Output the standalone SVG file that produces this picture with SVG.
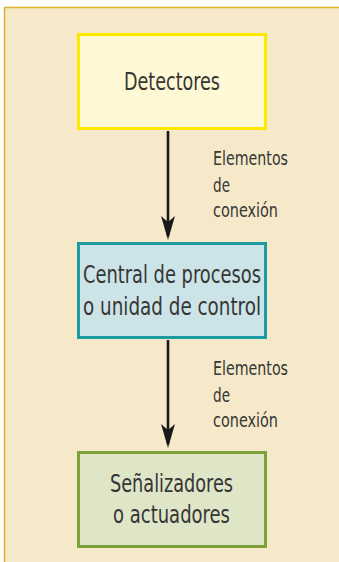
<svg xmlns="http://www.w3.org/2000/svg" width="339" height="562" viewBox="0 0 339 562">
  <style>
    .t { font-family: "DejaVu Sans Condensed", "Liberation Sans Narrow", "Roboto Condensed", "Liberation Sans", sans-serif; fill: #363636; }
    .box { font-size: 25px; }
    .lbl { font-size: 19px; }
    .edge { stroke: #1a1a1a; stroke-width: 2.6; fill: none; }
  </style>
  <defs>
    <marker id="arr" markerUnits="userSpaceOnUse" viewBox="0 0 24 14" refX="20" refY="7" markerWidth="24" markerHeight="14" orient="auto">
      <path d="M0,0 L24,7 L0,14 L6,7 Z" fill="#1a1a1a"/>
    </marker>
  </defs>
  <rect x="0" y="0" width="339" height="562" fill="#ffffff"/>
  <rect x="4.5" y="7.5" width="340" height="560" fill="#f5e9c9" stroke="#d9b22a" stroke-width="1.5"/>

  <g id="connectors">
    <path class="edge" d="M168,131 L168,236" marker-end="url(#arr)"/>
    <path class="edge" d="M168,340 L168,444" marker-end="url(#arr)"/>
    <g class="t lbl">
      <text x="213" y="165" textLength="75" lengthAdjust="spacingAndGlyphs">Elementos</text>
      <text x="213" y="192" textLength="17" lengthAdjust="spacingAndGlyphs">de</text>
      <text x="213" y="217" textLength="65" lengthAdjust="spacingAndGlyphs">conexión</text>
      <text x="213" y="375" textLength="75" lengthAdjust="spacingAndGlyphs">Elementos</text>
      <text x="213" y="402" textLength="17" lengthAdjust="spacingAndGlyphs">de</text>
      <text x="213" y="427" textLength="65" lengthAdjust="spacingAndGlyphs">conexión</text>
    </g>
  </g>

  <g id="detectores">
    <rect x="78.5" y="34.5" width="187" height="94" fill="#fef8d4" stroke="#ffe800" stroke-width="3"/>
    <text class="t box" x="124" y="90" textLength="96" lengthAdjust="spacingAndGlyphs">Detectores</text>
  </g>

  <g id="central">
    <rect x="78.5" y="243.5" width="187" height="94" fill="#cce4e7" stroke="#1c9aa2" stroke-width="3"/>
    <text class="t box" x="83" y="283" textLength="178" lengthAdjust="spacingAndGlyphs">Central de procesos</text>
    <text class="t box" x="83" y="315" textLength="178" lengthAdjust="spacingAndGlyphs">o unidad de control</text>
  </g>

  <g id="senalizadores">
    <rect x="78.5" y="452.5" width="187" height="94" fill="#dfe6c7" stroke="#7ea13a" stroke-width="3"/>
    <text class="t box" x="110" y="492" textLength="123" lengthAdjust="spacingAndGlyphs">Señalizadores</text>
    <text class="t box" x="113" y="523" textLength="117" lengthAdjust="spacingAndGlyphs">o actuadores</text>
  </g>
</svg>
